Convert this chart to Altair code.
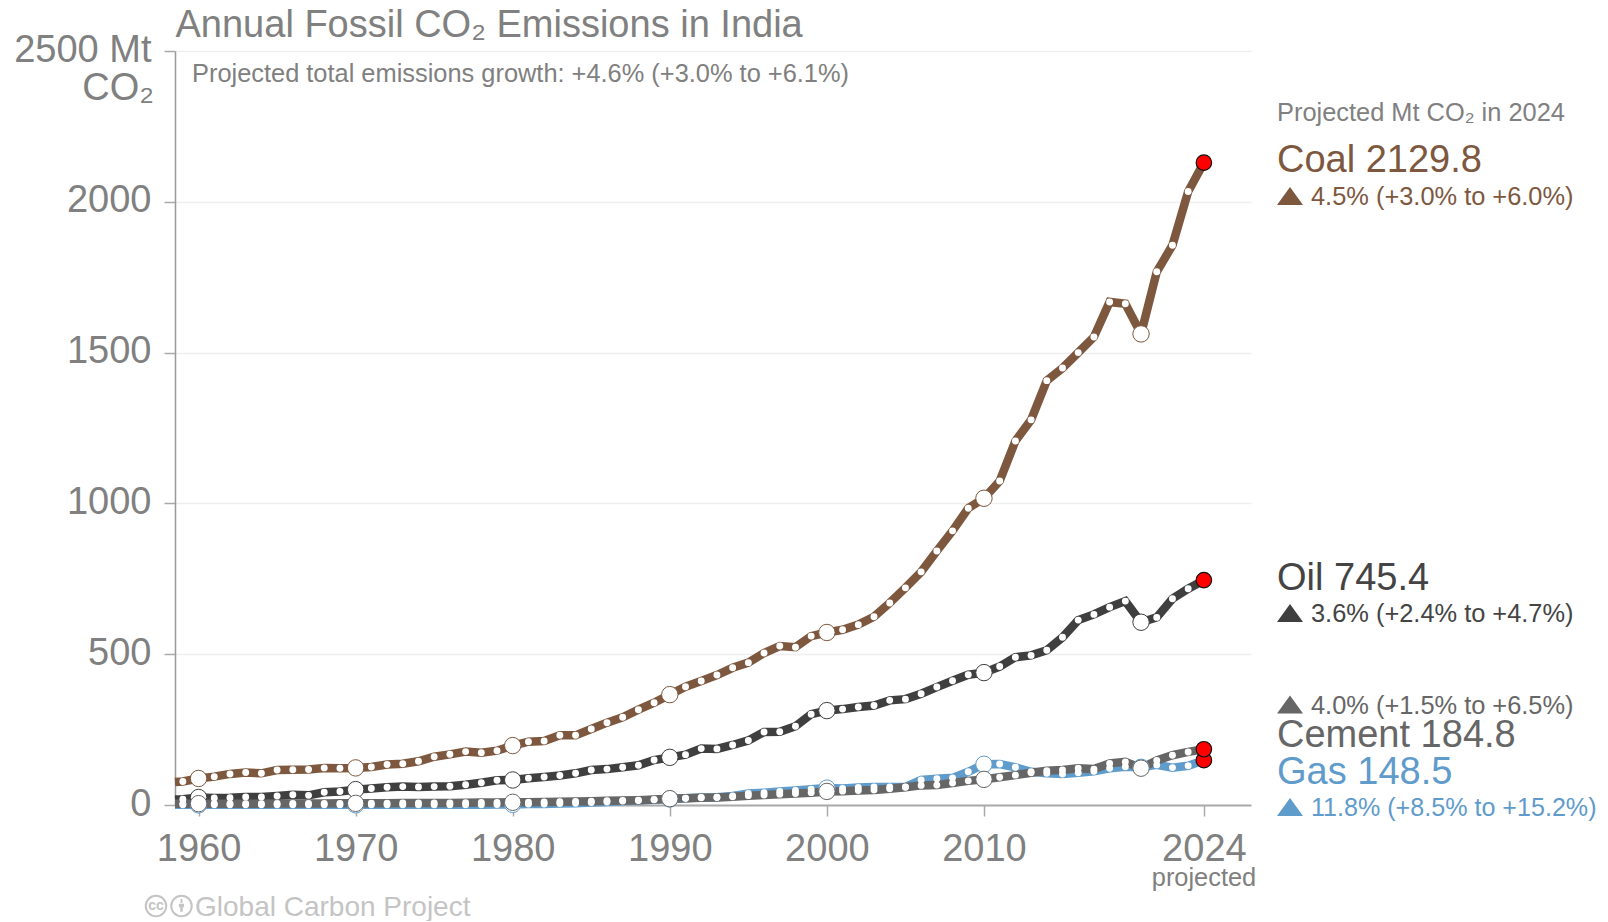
import altair as alt
import pandas as pd

FONT = "Liberation Sans"
years = [1958.5] + list(range(1959, 2025))

coal = [76, 78, 88, 94, 103, 108, 105, 116, 117, 118, 123, 122, 123, 126, 134, 137, 145, 160, 168, 177, 173, 180,
        197, 210, 212, 231, 231, 252, 273, 291, 316, 339, 366, 392, 411, 431, 455, 472, 504, 527, 523, 560,
        572, 581, 598, 624, 670, 720, 773, 842, 909, 984, 1017, 1074, 1207, 1277, 1407, 1449, 1500, 1552, 1668, 1662,
        1562, 1768, 1856, 2034, 2129.8]
oil = [18, 19, 25, 23, 24, 26.5, 26.5, 30, 34, 32, 42, 45, 51, 55, 59, 61, 60, 61, 62, 67, 74, 82,
       83, 89, 93, 98, 105, 116, 119, 125, 131.5, 149, 158, 167, 187, 186, 199, 214, 242, 243, 261, 301,
       313, 318, 325, 330, 347, 351, 369, 391, 412, 432, 439, 459, 490, 496, 513, 556, 613, 632, 656, 676,
       606, 622, 684, 717, 745.4]
cement = [4, 4, 4.5, 4.5, 4.5, 4.5, 4.5, 5, 5, 5, 5, 5.5, 5.5, 6, 6, 6.5, 6.5, 7, 7, 7.5, 8, 8.5,
          9, 9.5, 10, 11, 11.5, 12.5, 14, 15, 16, 18, 21, 22.5, 24, 25, 27, 31, 33, 36, 38, 41,
          45, 46, 48, 50, 54, 59, 65, 66, 73, 80, 85, 92, 99, 107, 114, 116, 122, 119, 138, 143,
          122, 148, 165, 176, 184.8]
gas = [0.5, 0.5, 0.5, 0.5, 0.5, 0.5, 0.5, 0.5, 0.5, 0.5, 0.5, 0.5, 0.5, 0.5, 0.5, 0.5, 1, 1, 1, 1, 1, 1.5,
       2, 3, 3.5, 5, 6, 8, 10, 13, 15, 17, 20, 22, 25, 26, 30, 38, 41, 45, 48, 52,
       56, 55, 58, 60, 60, 60, 83, 87, 90, 110, 135, 136, 125, 110, 105, 103, 107, 112, 122, 127,
       125, 133, 124, 130, 148.5]

series = [("Gas", gas), ("Coal", coal), ("Oil", oil), ("Cement", cement)]
colors = {"Coal": "#7d583e", "Oil": "#3f3f3f", "Cement": "#666666", "Gas": "#5f9bcb"}
big_years = [1960, 1970, 1980, 1990, 2000, 2010, 2020]
x_ticks = [1960, 1970, 1980, 1990, 2000, 2010, 2024]
y_ticks = [0, 500, 1000, 1500, 2000, 2500]

GREY = "#808080"
SMALL = 25.4
BIG = 38
texts = [
    # text, x, baseline y, size, colour, align
    ("Annual Fossil CO₂ Emissions in India", 175.5, 37, 38, GREY, "left"),
    ("Projected total emissions growth: +4.6% (+3.0% to +6.1%)", 192, 82, SMALL, GREY, "left"),
    ("CO₂", 154, 100, 38, GREY, "right"),
    ("projected", 1204, 886, SMALL, GREY, "center"),
    ("Global Carbon Project", 195, 916, 28, "#c4c4c4", "left"),
    ("Projected Mt CO₂ in 2024", 1277, 121, SMALL, GREY, "left"),
    ("Coal 2129.8", 1277, 172, BIG, colors["Coal"], "left"),
    ("4.5% (+3.0% to +6.0%)", 1311, 205, SMALL, colors["Coal"], "left"),
    ("Oil 745.4", 1277, 590, BIG, "#444444", "left"),
    ("3.6% (+2.4% to +4.7%)", 1311, 622, SMALL, "#444444", "left"),
    ("4.0% (+1.5% to +6.5%)", 1311, 714, SMALL, colors["Cement"], "left"),
    ("Cement 184.8", 1277, 747, BIG, colors["Cement"], "left"),
    ("Gas 148.5", 1277, 784, BIG, colors["Gas"], "left"),
    ("11.8% (+8.5% to +15.2%)", 1311, 816, 25.1, colors["Gas"], "left"),
]
triangles = [(196, "Coal"), (613, "Oil"), (704.5, "Cement"), (807, "Gas")]

PLOT_X, PLOT_Y, W, H = 175, 51, 1076, 754

rows = [{"year": y, "value": v, "series": name} for name, vals in series for y, v in zip(years, vals)]
df = pd.DataFrame(rows)
dots = df[(df.year >= 1959) & (df.year < 2024) & (~df.year.isin(big_years))]
bigs = df[df.year.isin(big_years)]
ends = df[df.year == 2024]

xs = alt.Scale(domain=[1958.5, 2027], nice=False)
ys = alt.Scale(domain=[0, 2500], nice=False)
X = alt.X("year:Q", scale=xs, title=None,
          axis=alt.Axis(values=x_ticks, format="d", labelFontSize=38, labelColor=GREY, labelFont=FONT,
                        labelPadding=14, tickSize=11, tickColor="#aaaaaa", tickWidth=1.5,
                        domainColor="#aaaaaa", domainWidth=2, grid=False, labelFlush=False,
                        labelOverlap=False))
Y = alt.Y("value:Q", scale=ys, title=None,
          axis=alt.Axis(values=y_ticks, labelFontSize=38, labelColor=GREY, labelFont=FONT, labelPadding=13,
                        labelOffset=-1, labelExpr="datum.value == 2500 ? '2500 Mt' : datum.value",
                        tickSize=11, tickColor="#aaaaaa", tickWidth=1.5, domainColor="#999999", domainWidth=1.5,
                        grid=True, gridColor="#eeeeee", gridWidth=1.5, labelOverlap=False))

layers = []
for name, _ in series:
    sub = df[df.series == name]
    layers.append(alt.Chart(sub).mark_line(color=colors[name], strokeWidth=8.5, strokeJoin="miter",
                                           strokeMiterLimit=2.5, clip=False).encode(x=X, y=Y))

for name, _ in series:
    layers.append(alt.Chart(bigs[bigs.series == name]).mark_point(
        filled=True, shape="circle", size=270, fill="white", stroke=colors[name], strokeWidth=1, opacity=1
    ).encode(x=X, y=Y))
    layers.append(alt.Chart(dots[dots.series == name]).mark_point(
        filled=True, shape="circle", size=48, fill="white", strokeWidth=0, opacity=1
    ).encode(x=X, y=Y))
    layers.append(alt.Chart(ends[ends.series == name]).mark_point(
        filled=True, shape="circle", size=240, fill="#ff0000", stroke="#111111", strokeWidth=1.2, opacity=1
    ).encode(x=X, y=Y))

TRI = "M-1,0.7L1,0.7L0,-0.7Z"
for yy, name in triangles:
    layers.append(alt.Chart(pd.DataFrame({"s": [name]})).mark_point(
        shape=TRI, filled=True, size=676, fill=colors[name], strokeWidth=0, opacity=1
    ).encode(x=alt.value(1290 - PLOT_X), y=alt.value(yy - PLOT_Y)))

for text, x, y, size, col, align in texts:
    layers.append(alt.Chart(pd.DataFrame({"t": [text]})).mark_text(
        font=FONT, fontSize=size, color=col, align=align, baseline="alphabetic"
    ).encode(x=alt.value(x - PLOT_X), y=alt.value(y - PLOT_Y), text="t:N"))

# licence badges beside the watermark
for cx, label in [(156, "cc"), (181.5, "by")]:
    layers.append(alt.Chart(pd.DataFrame({"s": [label]})).mark_point(
        shape="circle", size=420, filled=False, stroke="#c4c4c4", strokeWidth=2, opacity=1
    ).encode(x=alt.value(cx - PLOT_X), y=alt.value(906 - PLOT_Y)))
layers.append(alt.Chart(pd.DataFrame({"t": ["cc"]})).mark_text(
    font=FONT, fontSize=14, fontWeight="bold", color="#c4c4c4", align="center", baseline="middle"
).encode(x=alt.value(156 - PLOT_X), y=alt.value(906 - PLOT_Y), text="t:N"))
PERSON = "M-0.12,-0.9a0.2,0.2 0 1,0 0.24,0a0.2,0.2 0 1,0 -0.24,0ZM-0.45,-0.4L0.45,-0.4L0.45,0.2L0.22,0.2L0.22,1L-0.22,1L-0.22,0.2L-0.45,0.2Z"
layers.append(alt.Chart(pd.DataFrame({"s": ["person"]})).mark_point(
    shape=PERSON, filled=True, size=130, fill="#c4c4c4", strokeWidth=0, opacity=1
).encode(x=alt.value(181.5 - PLOT_X), y=alt.value(906 - PLOT_Y)))

chart = alt.layer(*layers).properties(
    width=W, height=H,
    autosize=alt.AutoSizeParams(type="none"),
    padding={"left": PLOT_X - 8, "top": PLOT_Y - 8, "right": 349, "bottom": 116},
    background="white",
).configure_view(stroke=None).configure_axis(zindex=0)

chart.save("out.html", embed_options={"renderer": "svg", "actions": False})
